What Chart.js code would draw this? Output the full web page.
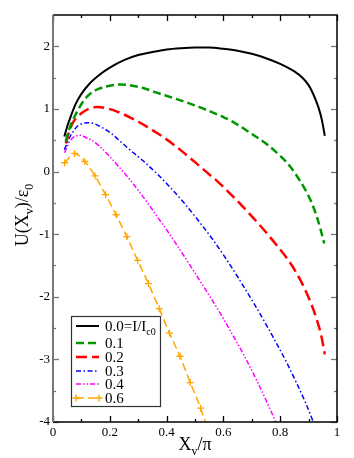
<!DOCTYPE html>
<html>
<head>
<meta charset="utf-8">
<script src="https://cdn.jsdelivr.net/npm/chart.js@4/dist/chart.umd.min.js"></script>
<style>
html,body{margin:0;padding:0;background:#fff;}
#wrap{width:354px;height:458px;}
</style>
</head>
<body>
<div id="wrap"><canvas id="c" width="354" height="458"></canvas></div>
<script>
// ---- data ----
const SERIES_LABELS = ["0.0=I/I", "0.1", "0.2", "0.3", "0.4", "0.6"];
const X_TICKS = [0, 0.2, 0.4, 0.6, 0.8, 1];
const Y_TICKS = [-4, -3, -2, -1, 0, 1, 2];

const X_I00 = [0.04,0.05,0.06,0.08,0.1,0.13,0.165,0.2,0.25,0.3,0.35,0.4,0.45,0.5,0.55,0.6,0.65,0.7,0.75,0.8,0.85,0.88,0.9,0.917,0.935,0.947,0.957];
const Y_I00 = [0.56,0.72,0.85,1.08,1.24,1.41,1.55,1.66,1.78,1.86,1.91,1.95,1.97,1.98,1.98,1.96,1.93,1.88,1.81,1.72,1.60,1.49,1.38,1.23,1.02,0.82,0.57];

const X_I01 = [0.045,0.053,0.065,0.076,0.09,0.106,0.13,0.16,0.2,0.236,0.28,0.32,0.365,0.42,0.482,0.518,0.553,0.6,0.635,0.7,0.752,0.8,0.835,0.87,0.893,0.912,0.928,0.942,0.955];
const Y_I01 = [0.48,0.62,0.77,0.88,1.0,1.12,1.24,1.32,1.37,1.39,1.37,1.33,1.26,1.18,1.085,1.025,0.96,0.87,0.79,0.6,0.44,0.25,0.08,-0.15,-0.33,-0.51,-0.71,-0.92,-1.15];

const X_I02 = [0.045,0.058,0.07,0.085,0.106,0.13,0.155,0.189,0.23,0.271,0.32,0.365,0.41,0.447,0.5,0.546,0.58,0.612,0.66,0.705,0.75,0.79,0.823,0.86,0.884,0.91,0.93,0.945,0.957];
const Y_I02 = [0.45,0.65,0.78,0.87,0.95,1.01,1.03,1.01,0.95,0.865,0.745,0.62,0.48,0.35,0.15,-0.03,-0.16,-0.30,-0.52,-0.74,-0.97,-1.19,-1.38,-1.64,-1.85,-2.12,-2.38,-2.63,-2.92];

const X_I03 = [0.04,0.047,0.058,0.07,0.085,0.106,0.125,0.141,0.17,0.205,0.24,0.271,0.32,0.365,0.41,0.465,0.518,0.56,0.606,0.65,0.708,0.75,0.789,0.825,0.859,0.89,0.919,0.926];
const Y_I03 = [0.35,0.42,0.54,0.63,0.72,0.77,0.78,0.77,0.71,0.61,0.47,0.345,0.16,-0.03,-0.24,-0.52,-0.82,-1.07,-1.37,-1.68,-2.11,-2.44,-2.76,-3.07,-3.39,-3.70,-4.03,-4.12];

const X_I04 = [0.041,0.05,0.059,0.07,0.082,0.095,0.117,0.136,0.165,0.2,0.235,0.271,0.3,0.336,0.37,0.4,0.437,0.48,0.518,0.553,0.6,0.64,0.672,0.72,0.764,0.79];
const Y_I04 = [0.30,0.40,0.48,0.54,0.57,0.58,0.54,0.50,0.40,0.24,0.06,-0.13,-0.30,-0.52,-0.74,-0.93,-1.18,-1.48,-1.75,-2.0,-2.35,-2.67,-2.93,-3.36,-3.79,-4.06];

const X_I06 = [0.041,0.076,0.112,0.148,0.185,0.222,0.26,0.298,0.336,0.374,0.41,0.447,0.483,0.52,0.542];
const Y_I06 = [0.14,0.29,0.16,-0.07,-0.37,-0.69,-1.04,-1.42,-1.79,-2.19,-2.58,-2.95,-3.37,-3.78,-4.08];

// ---- styles ----
const COLORS = ["#000000", "#009600", "#ff0000", "#0000ff", "#ff00ff", "#ffa500"];
const DASHES = [[], [8,4], [11,5], [5,2.5,1.5,2.5], [5,2,1.5,2,1.5,2], [8,4]];
const WIDTHS = [2, 2.5, 2.5, 1.5, 1.5, 1.5];
const XS = [X_I00, X_I01, X_I02, X_I03, X_I04, X_I06];
const YS = [Y_I00, Y_I01, Y_I02, Y_I03, Y_I04, Y_I06];

const datasets = XS.map((xs, k) => ({
  label: SERIES_LABELS[k],
  data: xs.map((x, i) => ({x: x, y: YS[k][i]})),
  borderColor: COLORS[k],
  backgroundColor: COLORS[k],
  borderWidth: WIDTHS[k],
  borderDash: DASHES[k],
  cubicInterpolationMode: 'monotone',
  fill: false,
  clip: 0,
  pointStyle: k === 5 ? 'cross' : 'circle',
  pointRadius: k === 5 ? xs.map((x, i) => i === xs.length - 1 ? 0 : 3.5) : 0,
  pointBorderWidth: 1.3,
  pointBorderColor: COLORS[k],
  pointHoverRadius: 0
}));

const SERIF = "'Liberation Serif','DejaVu Serif',serif";

function drawRich(ctx, parts, x, y, align) {
  const sizes = parts.map(p => p[1] ? 12 : 18);
  let total = 0;
  parts.forEach((p, i) => { ctx.font = sizes[i] + "px " + SERIF; total += ctx.measureText(p[0]).width; });
  let cx = align === 'center' ? x - total / 2 : x;
  parts.forEach((p, i) => {
    ctx.font = sizes[i] + "px " + SERIF;
    ctx.fillText(p[0], cx, p[1] ? y + 5 : y);
    cx += ctx.measureText(p[0]).width;
  });
}

const decor = {
  id: 'decor',
  afterDraw(chart) {
    const ctx = chart.ctx;
    const a = chart.chartArea;
    const xs = chart.scales.x, ys = chart.scales.y;
    ctx.save();
    const xMaj = X_TICKS, xMin = [0.1,0.3,0.5,0.7,0.9];
    const yMaj = Y_TICKS, yMin = [-3.5,-2.5,-1.5,-0.5,0.5,1.5];
    ctx.lineWidth = 1.3;
    const tick = (x1,y1,x2,y2,col) => { ctx.strokeStyle = col; ctx.beginPath(); ctx.moveTo(x1,y1); ctx.lineTo(x2,y2); ctx.stroke(); };
    xMaj.forEach(v => { const p = Math.round(xs.getPixelForValue(v)) + 0.5; tick(p,a.bottom,p,a.bottom-6,'#000'); tick(p,a.top,p,a.top+6,'#000'); });
    xMin.forEach(v => { const p = Math.round(xs.getPixelForValue(v)) + 0.5; tick(p,a.bottom,p,a.bottom-3,'#000'); tick(p,a.top,p,a.top+3,'#000'); });
    yMaj.forEach(v => { const p = Math.round(ys.getPixelForValue(v)) + 0.5; tick(a.left,p,a.left+6,p,'#777'); tick(a.right,p,a.right-6,p,'#777'); });
    yMin.forEach(v => { const p = Math.round(ys.getPixelForValue(v)) + 0.5; tick(a.left,p,a.left+3,p,'#777'); tick(a.right,p,a.right-3,p,'#777'); });
    // frame
    ctx.lineWidth = 1.5;
    ctx.strokeStyle = '#000';
    ctx.beginPath();
    ctx.moveTo(a.left, a.top); ctx.lineTo(a.right, a.top); ctx.lineTo(a.right, a.bottom); ctx.lineTo(a.left, a.bottom);
    ctx.stroke();
    ctx.strokeStyle = '#777';
    ctx.lineWidth = 2;
    ctx.beginPath(); ctx.moveTo(a.left, a.top); ctx.lineTo(a.left, a.bottom); ctx.stroke();

    // legend box
    const lx = 71, ly = 316, lw = 89, lh = 90;
    ctx.fillStyle = '#fff';
    ctx.fillRect(lx, ly, lw, lh);
    ctx.lineWidth = 1.2;
    ctx.strokeStyle = '#333';
    ctx.strokeRect(lx + 0.5, ly + 0.5, lw, lh);
    const rows = [326, 343, 357, 371, 384, 398];
    chart.data.datasets.forEach((ds, k) => {
      const yy = rows[k];
      ctx.save();
      ctx.strokeStyle = ds.borderColor;
      ctx.lineWidth = ds.borderWidth;
      ctx.setLineDash(ds.borderDash);
      ctx.beginPath(); ctx.moveTo(76, yy); ctx.lineTo(99, yy); ctx.stroke();
      ctx.setLineDash([]);
      if (k === 5) {
        ctx.lineWidth = 1.3;
        [76, 99].forEach(px => { ctx.beginPath(); ctx.moveTo(px-3.5, yy); ctx.lineTo(px+3.5, yy); ctx.moveTo(px, yy-3.5); ctx.lineTo(px, yy+3.5); ctx.stroke(); });
      }
      ctx.restore();
      ctx.fillStyle = '#000';
      ctx.textBaseline = 'middle';
      ctx.textAlign = 'left';
      ctx.font = "15px " + SERIF;
      ctx.fillText(ds.label, 105, yy + 1);
      if (k === 0) {
        const w = ctx.measureText(ds.label).width;
        ctx.font = "10px " + SERIF;
        ctx.fillText("c0", 105 + w, yy + 6);
      }
    });

    // axis titles
    ctx.fillStyle = '#000';
    ctx.textBaseline = 'alphabetic';
    ctx.textAlign = 'left';
    drawRich(ctx, [["X", false], ["v", true], ["/π", false]], 195, 450, 'center');
    ctx.save();
    ctx.translate(28, 215);
    ctx.rotate(-Math.PI / 2);
    drawRich(ctx, [["U(X", false], ["v", true], [")/ε", false], ["0", true]], 0, 0, 'center');
    ctx.restore();
    ctx.restore();
  }
};

new Chart(document.getElementById('c'), {
  type: 'line',
  data: { datasets: datasets },
  options: {
    responsive: false,
    animation: false,
    devicePixelRatio: 1,
    layout: { padding: { left: 0, top: 15, right: 17, bottom: 0 } },
    plugins: { legend: { display: false }, tooltip: { enabled: false } },
    scales: {
      x: {
        type: 'linear', min: 0, max: 1,
        afterBuildTicks: s => { s.ticks = X_TICKS.map(v => ({ value: v })); },
        afterFit: s => { s.height = 36; },
        grid: { display: false, drawTicks: false },
        border: { display: false },
        ticks: { padding: 3, maxRotation: 0, autoSkip: false, color: '#000', font: { family: SERIF, size: 13 }, callback: v => String(v) }
      },
      y: {
        type: 'linear', min: -4, max: 2.5,
        afterBuildTicks: s => { s.ticks = Y_TICKS.map(v => ({ value: v })); },
        afterFit: s => { s.width = 53; },
        grid: { display: false, drawTicks: false },
        border: { display: false },
        ticks: { padding: 3, autoSkip: false, color: '#000', font: { family: SERIF, size: 13 }, callback: v => String(v) }
      }
    }
  },
  plugins: [decor]
});
</script>
</body>
</html>
